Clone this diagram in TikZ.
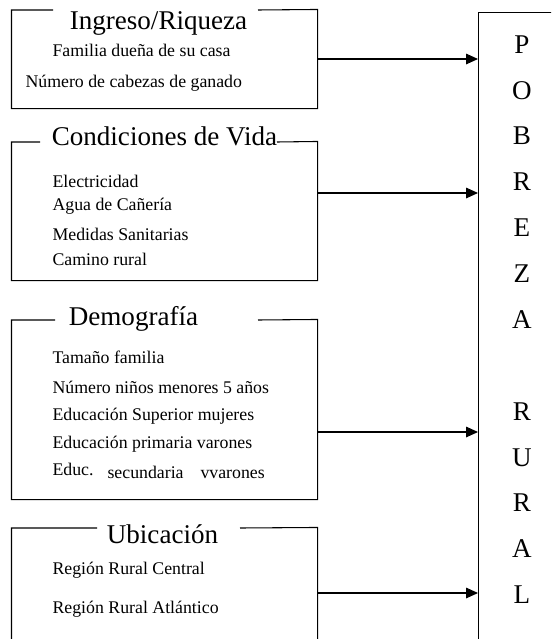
\documentclass[tikz,border=0pt]{standalone}
\usepackage{fontspec}
\setmainfont{Liberation Serif}
\usetikzlibrary{arrows.meta,positioning}
\begin{document}
\begin{tikzpicture}[
    x=0.75pt, y=-0.75pt, line width=0.8pt,
    arrowstyle/.style={draw, -{Triangle[length=9pt, width=8pt]}},
    group/.style={rectangle, minimum width=228.75pt, inner sep=0pt},
    title/.style={anchor=base, inner sep=0pt, font=\fontsize{20.3}{24}\selectfont},
    item/.style={anchor=base west, inner sep=0pt, font=\fontsize{13.35}{16}\selectfont},
    letters/.style={anchor=north, inner sep=0pt, align=center,
        font=\fontsize{20.3}{34.4}\selectfont}
]
\clip (0,0) rectangle (551,639);
\fill[white] (0,0) rectangle (551,639);

\node (Pobreza) [draw, rectangle, anchor=north west, inner sep=0pt,
    minimum width=120pt, minimum height=500pt] at (478,12) {};
\node (Letras) [letters] at (522,35) {P\\O\\B\\R\\E\\Z\\A\\[34.4pt]R\\U\\R\\A\\L};

\node (Ingreso) [group, minimum height=73.5pt] at (164.5,59) {};
\coordinate (IngresoL) at (53,10);
\coordinate (IngresoR) at (258,10);
\draw (IngresoL) -| (Ingreso.south west) -| (Ingreso.north east) -- (IngresoR);
\node (IngresoT) [title] at (158.5,29) {Ingreso/Riqueza};
\node (Casa) [item] at (52,56) {Familia dueña de su casa};
\node (Ganado) [item] at (25,87) {Número de cabezas de ganado};

\node (Condiciones) [group, minimum height=103.5pt] at (164.5,211) {};
\coordinate (CondicionesL) at (40,142);
\coordinate (CondicionesR) at (277,142);
\draw (CondicionesL) -| (Condiciones.south west) -| (Condiciones.north east) -- (CondicionesR);
\node (CondicionesT) [title] at (164.5,145) {Condiciones de Vida};
\node (Electricidad) [item] at (52,187) {Electricidad};
\node (Agua) [item] at (52,210) {Agua de Cañería};
\node (Sanitarias) [item] at (52,240) {Medidas Sanitarias};
\node (Camino) [item] at (52,265) {Camino rural};

\node (Demografia) [group, minimum height=134.25pt] at (164.5,409.5) {};
\coordinate (DemografiaL) at (55,320);
\coordinate (DemografiaR) at (258,320);
\draw (DemografiaL) -| (Demografia.south west) -| (Demografia.north east) -- (DemografiaR);
\node (DemografiaT) [title] at (133.5,325) {Demografía};
\node (Familia) [item] at (52,363) {Tamaño familia};
\node (Ninos) [item] at (52,393) {Número niños menores 5 años};
\node (Mujeres) [item] at (52,420) {Educación Superior mujeres};
\node (Primaria) [item] at (52,448) {Educación primaria varones};
\node (Educ) [item] at (52,475) {Educ.};
\node (Secundaria) [item] at (107,478) {secundaria};
\node (Varones) [item] at (200,478) {vvarones};

\node (Ubicacion) [group, minimum height=114pt] at (164.5,604) {};
\coordinate (UbicacionL) at (97,528);
\coordinate (UbicacionR) at (240,528);
\draw (UbicacionL) -| (Ubicacion.south west) -| (Ubicacion.north east) -- (UbicacionR);
\node (UbicacionT) [title] at (162.5,543) {Ubicación};
\node (Central) [item] at (52,574) {Región Rural Central};
\node (Atlantico) [item] at (52,613) {Región Rural Atlántico};

\coordinate (CondicionesA) at (317,193);
\coordinate (DemografiaA) at (317,432);
\coordinate (UbicacionA) at (317,593);
\draw[arrowstyle] (Ingreso.east) -- (Ingreso.east -| Pobreza.west);
\draw[arrowstyle] (CondicionesA) -- (CondicionesA -| Pobreza.west);
\draw[arrowstyle] (DemografiaA) -- (DemografiaA -| Pobreza.west);
\draw[arrowstyle] (UbicacionA) -- (UbicacionA -| Pobreza.west);

\end{tikzpicture}
\end{document}
